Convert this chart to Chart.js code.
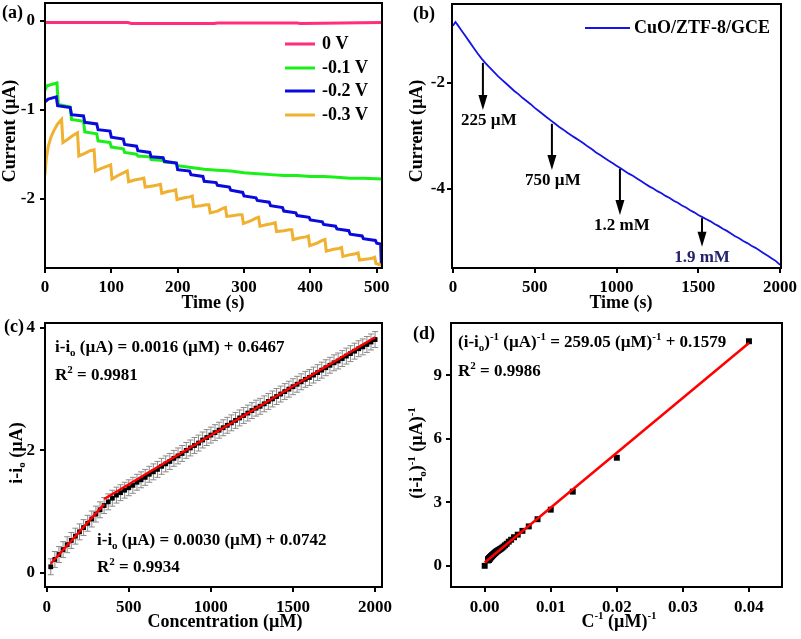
<!DOCTYPE html>
<html>
<head>
<meta charset="utf-8">
<script src="https://cdn.jsdelivr.net/npm/chart.js@4.4.0/dist/chart.umd.min.js"></script>
<style>
  body { margin: 0; background: #fff; }
  #wrap { position: relative; width: 801px; height: 639px; }
  canvas { position: absolute; }
</style>
</head>
<body>
<div id="wrap">
  <canvas id="chartA" style="left:0;top:0" width="400" height="318"></canvas>
  <canvas id="chartB" style="left:400px;top:0" width="401" height="318"></canvas>
  <canvas id="chartC" style="left:0;top:318px" width="400" height="321"></canvas>
  <canvas id="chartD" style="left:400px;top:318px" width="401" height="321"></canvas>
</div>
<script>
// (a) amperometric response at different potentials
const tA0 = [0, 125, 130, 255, 260, 380, 385, 508];
const iA0 = [-0.02, -0.02, -0.03, -0.03, -0.025, -0.025, -0.03, -0.02];
const tA1 = [0, 3, 18, 20, 38, 40, 58, 60, 78, 80, 98, 100, 118, 120, 138, 140, 158, 160, 178, 180, 198, 200, 220, 240, 260, 280, 300, 320, 340, 360, 380, 400, 420, 440, 460, 480, 508];
const iA1 = [-0.78, -0.73, -0.70, -0.94, -0.97, -1.11, -1.13, -1.25, -1.27, -1.35, -1.37, -1.42, -1.44, -1.48, -1.50, -1.52, -1.53, -1.56, -1.57, -1.59, -1.60, -1.63, -1.65, -1.67, -1.68, -1.69, -1.71, -1.72, -1.73, -1.74, -1.74, -1.75, -1.75, -1.76, -1.77, -1.77, -1.78];
const tA2 = [0, 5, 17, 19, 38, 40, 58, 60, 78, 80, 98, 100, 118, 120, 138, 140, 158, 160, 178, 180, 198, 200, 218, 220, 238, 240, 258, 260, 278, 280, 298, 300, 318, 320, 338, 340, 358, 360, 378, 380, 398, 400, 418, 420, 438, 440, 458, 460, 478, 480, 498, 500, 506, 507];
const iA2 = [-0.91, -0.88, -0.855, -0.955, -0.975, -1.056, -1.07, -1.142, -1.16, -1.225, -1.24, -1.31, -1.33, -1.39, -1.41, -1.46, -1.48, -1.53, -1.54, -1.58, -1.60, -1.674, -1.69, -1.73, -1.75, -1.805, -1.82, -1.85, -1.87, -1.906, -1.93, -1.97, -1.99, -2.02, -2.04, -2.08, -2.10, -2.14, -2.16, -2.19, -2.21, -2.24, -2.26, -2.29, -2.31, -2.34, -2.36, -2.40, -2.42, -2.45, -2.47, -2.50, -2.51, -2.74];
const tA3 = [0, 2, 5, 9, 13, 19, 25, 27, 35, 42, 49, 51, 60, 68, 74, 76, 85, 92, 99, 101, 110, 118, 124, 126, 135, 143, 149, 151, 160, 168, 174, 176, 185, 193, 197, 199, 210, 218, 222, 224, 235, 243, 247, 249, 260, 268, 272, 274, 285, 293, 297, 299, 310, 318, 322, 324, 335, 343, 347, 349, 360, 368, 372, 374, 385, 393, 397, 399, 410, 418, 422, 424, 435, 443, 447, 449, 460, 468, 472, 474, 485, 493, 497, 499, 508];
const iA3 = [-1.73, -1.55, -1.41, -1.31, -1.24, -1.16, -1.11, -1.37, -1.33, -1.29, -1.26, -1.52, -1.49, -1.46, -1.45, -1.69, -1.66, -1.64, -1.62, -1.78, -1.74, -1.71, -1.69, -1.81, -1.79, -1.78, -1.77, -1.87, -1.86, -1.85, -1.84, -1.94, -1.92, -1.91, -1.90, -2.01, -1.99, -1.98, -1.97, -2.09, -2.08, -2.07, -2.07, -2.16, -2.14, -2.11, -2.10, -2.20, -2.19, -2.18, -2.18, -2.28, -2.25, -2.22, -2.21, -2.31, -2.29, -2.28, -2.27, -2.37, -2.36, -2.35, -2.35, -2.46, -2.44, -2.43, -2.42, -2.53, -2.50, -2.47, -2.46, -2.59, -2.57, -2.56, -2.55, -2.65, -2.63, -2.62, -2.61, -2.69, -2.68, -2.67, -2.66, -2.73, -2.75];
const labelsA = ['0 V', '-0.1 V', '-0.2 V', '-0.3 V'];
const xTicksA = [0, 100, 200, 300, 400, 500];
const yTicksA = [0, -1, -2];

// (b) successive additions at CuO/ZTF-8/GCE
const timeB = [0, 15, 25, 50, 75, 100, 125, 150, 175, 200, 225, 250, 275, 300, 325, 350, 375, 400, 425, 450, 475, 500, 525, 550, 575, 600, 625, 650, 675, 700, 725, 750, 775, 800, 825, 850, 875, 900, 925, 950, 975, 1000, 1025, 1050, 1075, 1100, 1125, 1150, 1175, 1200, 1225, 1250, 1275, 1300, 1325, 1350, 1375, 1400, 1425, 1450, 1475, 1500, 1525, 1550, 1575, 1600, 1625, 1650, 1675, 1700, 1725, 1750, 1775, 1800, 1825, 1850, 1875, 1900, 1925, 1950, 1975, 2000];
const currentB = [-0.92, -0.85, -0.89, -1.00, -1.11, -1.22, -1.33, -1.44, -1.54, -1.63, -1.71, -1.79, -1.87, -1.94, -2.01, -2.08, -2.15, -2.21, -2.28, -2.34, -2.40, -2.47, -2.53, -2.59, -2.65, -2.71, -2.77, -2.83, -2.88, -2.94, -2.99, -3.04, -3.09, -3.14, -3.20, -3.25, -3.31, -3.36, -3.41, -3.46, -3.51, -3.56, -3.61, -3.66, -3.71, -3.75, -3.80, -3.85, -3.90, -3.95, -3.99, -4.04, -4.08, -4.13, -4.17, -4.22, -4.26, -4.31, -4.35, -4.40, -4.44, -4.49, -4.53, -4.57, -4.61, -4.66, -4.70, -4.75, -4.79, -4.84, -4.89, -4.93, -4.98, -5.02, -5.07, -5.11, -5.16, -5.21, -5.26, -5.31, -5.36, -5.43];
const arrowT = [183, 605, 1021, 1523];
const arrowFrom = [-1.62, -2.77, -3.62, -4.55];
const arrowTo = [-2.51, -3.64, -4.49, -5.09];
const arrowText = ['225 µM', '750 µM', '1.2 mM', '1.9 mM'];
const xTicksB = [0, 500, 1000, 1500, 2000];
const yTicksB = [-2, -4];

// (c) calibration
const concC = [25, 50, 75, 100, 125, 150, 175, 200, 225, 250, 275, 300, 325, 350, 375, 400, 425, 450, 475, 500, 525, 550, 575, 600, 625, 650, 675, 700, 725, 750, 775, 800, 825, 850, 875, 900, 925, 950, 975, 1000, 1025, 1050, 1075, 1100, 1125, 1150, 1175, 1200, 1225, 1250, 1275, 1300, 1325, 1350, 1375, 1400, 1425, 1450, 1475, 1500, 1525, 1550, 1575, 1600, 1625, 1650, 1675, 1700, 1725, 1750, 1775, 1800, 1825, 1850, 1875, 1900, 1925, 1950, 1975, 2000];
const currC = [0.10, 0.22, 0.30, 0.38, 0.46, 0.53, 0.60, 0.67, 0.74, 0.81, 0.88, 0.96, 1.03, 1.10, 1.16, 1.22, 1.27, 1.31, 1.35, 1.39, 1.43, 1.48, 1.52, 1.56, 1.61, 1.65, 1.69, 1.74, 1.78, 1.82, 1.87, 1.91, 1.95, 2.00, 2.04, 2.08, 2.12, 2.17, 2.21, 2.25, 2.29, 2.33, 2.37, 2.41, 2.45, 2.49, 2.53, 2.57, 2.61, 2.65, 2.69, 2.72, 2.76, 2.80, 2.84, 2.88, 2.92, 2.96, 3.00, 3.04, 3.08, 3.12, 3.16, 3.19, 3.23, 3.27, 3.31, 3.35, 3.39, 3.43, 3.46, 3.50, 3.54, 3.58, 3.62, 3.66, 3.69, 3.73, 3.77, 3.81];
const errC = 0.13;
const fitLowC = [25, 350], fitLowI = [0.149, 1.124];
const fitHighC = [350, 2000], fitHighI = [1.207, 3.847];
const xTicksC = [0, 500, 1000, 1500, 2000];
const yTicksC = [0, 2, 4];

// (d) Lineweaver-Burk
const invC = [0, 0.04, 0.02, 0.01333, 0.01, 0.008, 0.00667, 0.00571, 0.005, 0.00444, 0.004, 0.00364, 0.00333, 0.00308, 0.00286, 0.00267, 0.0025, 0.00235, 0.00222, 0.00211, 0.002, 0.0019, 0.00182, 0.00174, 0.00167, 0.0016, 0.00154, 0.00148, 0.00143, 0.00138, 0.00133, 0.00129, 0.00125, 0.00121, 0.00118, 0.00114, 0.00111, 0.00108, 0.00105, 0.00103, 0.001, 0.000976, 0.000952, 0.00093, 0.000909, 0.000889, 0.00087, 0.000851, 0.000833, 0.000816, 0.0008, 0.000784, 0.000769, 0.000755, 0.000741, 0.000727, 0.000714, 0.000702, 0.00069, 0.000678, 0.000667, 0.000656, 0.000645, 0.000635, 0.000625, 0.000615, 0.000606, 0.000597, 0.000588, 0.00058, 0.000571, 0.000563, 0.000556, 0.000548, 0.000541, 0.000533, 0.000526, 0.000519, 0.000513, 0.000506, 0.0005];
const invI = [0, 10.6, 5.1, 3.5, 2.65, 2.2, 1.86, 1.65, 1.47, 1.35, 1.23, 1.14, 1.04, 0.97, 0.91, 0.86, 0.82, 0.79, 0.76, 0.74, 0.72, 0.70, 0.68, 0.66, 0.64, 0.62, 0.61, 0.59, 0.57, 0.56, 0.55, 0.53, 0.52, 0.51, 0.50, 0.49, 0.48, 0.47, 0.46, 0.45, 0.44, 0.437, 0.429, 0.422, 0.415, 0.408, 0.402, 0.395, 0.389, 0.383, 0.377, 0.372, 0.368, 0.362, 0.357, 0.352, 0.347, 0.342, 0.338, 0.333, 0.329, 0.325, 0.321, 0.316, 0.313, 0.310, 0.306, 0.302, 0.299, 0.295, 0.292, 0.289, 0.286, 0.282, 0.279, 0.276, 0.273, 0.271, 0.268, 0.265, 0.262];
const fitInvC = [0, 0.04], fitInvI = [0.158, 10.52];
const xTicksD = [0, 0.01, 0.02, 0.03, 0.04];
const yTicksD = [0, 3, 6, 9];

const SERIF = "'Liberation Serif', 'Times New Roman', serif";
const tickFont = { family: SERIF, size: 17, weight: 'bold' };

function pts(xs, ys) {
  return xs.map((x, i) => ({ x: x, y: ys[i] }));
}

// text with sub/superscript pieces: parts = [[text, ''|'sub'|'sup'], ...]
function drawRich(ctx, parts, x, y, size, opt) {
  opt = opt || {};
  ctx.save();
  ctx.fillStyle = opt.color || '#000';
  ctx.textBaseline = 'middle';
  ctx.textAlign = 'left';
  const fontFor = m => 'bold ' + (m ? Math.round(size * 0.62) : size) + 'px ' + SERIF;
  let w = 0;
  parts.forEach(p => { ctx.font = fontFor(p[1]); w += ctx.measureText(p[0]).width; });
  ctx.translate(x, y);
  if (opt.rotate) ctx.rotate(-Math.PI / 2);
  let cx = opt.center ? -w / 2 : 0;
  parts.forEach(p => {
    ctx.font = fontFor(p[1]);
    const dy = p[1] === 'sub' ? size * 0.3 : p[1] === 'sup' ? -size * 0.32 : 0;
    ctx.fillText(p[0], cx, dy);
    cx += ctx.measureText(p[0]).width;
  });
  ctx.restore();
}

function textPlugin(items) {
  return {
    id: 'texts',
    afterDraw(chart) {
      items.forEach(it => drawRich(chart.ctx, it.parts, it.x, it.y, it.size || 17, it));
    }
  };
}

const framePlugin = {
  id: 'frame',
  afterDatasetsDraw(chart) {
    const a = chart.chartArea, ctx = chart.ctx;
    ctx.save();
    ctx.strokeStyle = '#000';
    ctx.lineWidth = 2;
    ctx.strokeRect(a.left, a.top, a.right - a.left, a.bottom - a.top);
    ctx.restore();
  }
};

function axis(min, max, ticks, box, isX, pad, fmt) {
  return {
    type: 'linear',
    min: min,
    max: max,
    border: { display: false },
    grid: { drawOnChartArea: false, tickLength: 5, lineWidth: 2, color: '#000' },
    ticks: { color: '#000', font: tickFont, padding: pad, callback: fmt || (v => String(v)) },
    afterBuildTicks: s => { s.ticks = ticks.map(v => ({ value: v })); },
    afterFit: s => {
      if (isX) { s.height = box; s.paddingLeft = 0; s.paddingRight = 0; }
      else { s.width = box; s.paddingTop = 0; s.paddingBottom = 0; }
    }
  };
}

function baseOptions(padding, xScale, yScale) {
  return {
    responsive: false,
    animation: false,
    events: [],
    layout: { padding: padding },
    plugins: { legend: { display: false }, tooltip: { enabled: false } },
    scales: { x: xScale, y: yScale }
  };
}

// ---------- (a) ----------
const colorsA = ['#ff2d7a', '#1aef1a', '#0a0adc', '#f0b030'];
const seriesA = [[tA3, iA3], [tA2, iA2], [tA1, iA1], [tA0, iA0]];
const legendA = {
  id: 'legendA',
  afterDraw(chart) {
    const ctx = chart.ctx;
    const rows = [44, 68, 91, 115];
    labelsA.forEach((lab, i) => {
      ctx.save();
      ctx.strokeStyle = colorsA[i];
      ctx.lineWidth = 3;
      ctx.beginPath();
      ctx.moveTo(285, rows[i]);
      ctx.lineTo(315, rows[i]);
      ctx.stroke();
      ctx.restore();
      drawRich(ctx, [[lab, '']], 322, rows[i], 18);
    });
  }
};
new Chart(document.getElementById('chartA'), {
  type: 'scatter',
  data: {
    datasets: seriesA.map((s, k) => ({
      label: labelsA[3 - k],
      data: pts(s[0], s[1]),
      showLine: true,
      borderColor: colorsA[3 - k],
      borderWidth: 3,
      pointRadius: 0
    }))
  },
  options: baseOptions({ top: 3, right: 18, left: 0, bottom: 0 },
    axis(0, 508, xTicksA, 50, true, 4),
    axis(-2.78, 0.2, yTicksA, 45, false, 5)),
  plugins: [framePlugin, legendA, textPlugin([
    { parts: [['(a)', '']], x: 2, y: 13, size: 18 },
    { parts: [['Current (µA)', '']], x: 10, y: 131, size: 18, rotate: true, center: true },
    { parts: [['Time (s)', '']], x: 213, y: 303, size: 18, center: true }
  ])]
});

// ---------- (b) ----------
const arrowsB = {
  id: 'arrowsB',
  afterDatasetsDraw(chart) {
    const ctx = chart.ctx, xs = chart.scales.x, ys = chart.scales.y;
    const dx = [6, 1, 2, 0];
    arrowT.forEach((t, i) => {
      const x = xs.getPixelForValue(t);
      const y1 = ys.getPixelForValue(arrowFrom[i]);
      const y2 = ys.getPixelForValue(arrowTo[i]);
      ctx.save();
      ctx.strokeStyle = '#000';
      ctx.fillStyle = '#000';
      ctx.lineWidth = 2;
      ctx.beginPath();
      ctx.moveTo(x, y1);
      ctx.lineTo(x, y2 - 12);
      ctx.stroke();
      ctx.beginPath();
      ctx.moveTo(x - 4.5, y2 - 15);
      ctx.lineTo(x + 4.5, y2 - 15);
      ctx.lineTo(x, y2);
      ctx.closePath();
      ctx.fill();
      ctx.restore();
      drawRich(ctx, [[arrowText[i], '']], x + dx[i], y2 + 11, 17,
        { center: true, color: i === 3 ? '#23236b' : '#000' });
    });
  }
};
const legendB = {
  id: 'legendB',
  afterDraw(chart) {
    const ctx = chart.ctx;
    ctx.save();
    ctx.strokeStyle = '#1414e6';
    ctx.lineWidth = 2;
    ctx.beginPath();
    ctx.moveTo(185, 28);
    ctx.lineTo(230, 28);
    ctx.stroke();
    ctx.restore();
    drawRich(ctx, [['CuO/ZTF-8/GCE', '']], 234, 28, 18);
  }
};
new Chart(document.getElementById('chartB'), {
  type: 'scatter',
  data: {
    datasets: [{
      label: 'CuO/ZTF-8/GCE',
      data: pts(timeB, currentB),
      showLine: true,
      borderColor: '#1414e6',
      borderWidth: 1.8,
      pointRadius: 0
    }]
  },
  options: baseOptions({ top: 4, right: 20, left: 0, bottom: 0 },
    axis(-6, 2006, xTicksB, 50, true, 4),
    axis(-5.49, -0.51, yTicksB, 52, false, 2)),
  plugins: [framePlugin, arrowsB, legendB, textPlugin([
    { parts: [['(b)', '']], x: 13, y: 14, size: 18 },
    { parts: [['Current (µA)', '']], x: 17.5, y: 131, size: 18, rotate: true, center: true },
    { parts: [['Time (s)', '']], x: 221, y: 303, size: 18, center: true }
  ])]
});

// ---------- (c) ----------
const errorBarsC = {
  id: 'errorBarsC',
  beforeDatasetsDraw(chart) {
    const ctx = chart.ctx, xs = chart.scales.x, ys = chart.scales.y;
    ctx.save();
    ctx.strokeStyle = '#8a8a8a';
    ctx.lineWidth = 1;
    concC.forEach((c, i) => {
      const x = xs.getPixelForValue(c);
      const yt = ys.getPixelForValue(currC[i] + errC);
      const yb = ys.getPixelForValue(currC[i] - errC);
      ctx.beginPath();
      ctx.moveTo(x, yt); ctx.lineTo(x, yb);
      ctx.moveTo(x - 3, yt); ctx.lineTo(x + 3, yt);
      ctx.moveTo(x - 3, yb); ctx.lineTo(x + 3, yb);
      ctx.stroke();
    });
    ctx.restore();
  }
};
new Chart(document.getElementById('chartC'), {
  type: 'scatter',
  data: {
    datasets: [
      { data: pts(fitHighC, fitHighI), showLine: true, borderColor: '#ff0000', borderWidth: 2.5, pointRadius: 0 },
      { data: pts(fitLowC, fitLowI), showLine: true, borderColor: '#ff0000', borderWidth: 2.5, pointRadius: 0 },
      { data: pts(concC, currC), pointStyle: 'rect', pointRadius: 3.4, backgroundColor: '#000', borderColor: '#000', borderWidth: 0 }
    ]
  },
  options: baseOptions({ top: 5, right: 18, left: 0, bottom: 0 },
    axis(-10, 2042, xTicksC, 52, true, 5),
    axis(-0.23, 4.08, yTicksC, 45, false, 5)),
  plugins: [errorBarsC, framePlugin, textPlugin([
    { parts: [['(c)', '']], x: 4, y: 9, size: 18 },
    { parts: [['i-i', ''], ['o', 'sub'], [' (µA)', '']], x: 17, y: 135, size: 18, rotate: true, center: true },
    { parts: [['Concentration (µM)', '']], x: 225, y: 304, size: 18, center: true },
    { parts: [['i-i', ''], ['o', 'sub'], [' (µA) = 0.0016 (µM) + 0.6467', '']], x: 55, y: 30 },
    { parts: [['R', ''], ['2', 'sup'], [' = 0.9981', '']], x: 55, y: 58 },
    { parts: [['i-i', ''], ['o', 'sub'], [' (µA) = 0.0030 (µM) + 0.0742', '']], x: 97, y: 223 },
    { parts: [['R', ''], ['2', 'sup'], [' = 0.9934', '']], x: 97, y: 250 }
  ])]
});

// ---------- (d) ----------
new Chart(document.getElementById('chartD'), {
  type: 'scatter',
  data: {
    datasets: [
      { data: pts(fitInvC, fitInvI), showLine: true, borderColor: '#ff0000', borderWidth: 2.5, pointRadius: 0 },
      { data: pts(invC, invI), pointStyle: 'rect', pointRadius: 4.2, backgroundColor: '#000', borderColor: '#000', borderWidth: 0 }
    ]
  },
  options: baseOptions({ top: 5, right: 19, left: 0, bottom: 0 },
    axis(-0.0051, 0.045, xTicksD, 52, true, 5, v => v.toFixed(2)),
    axis(-1.0, 11.46, yTicksD, 51, false, 4)),
  plugins: [framePlugin, textPlugin([
    { parts: [['(d)', '']], x: 13, y: 16, size: 18 },
    { parts: [['(i-i', ''], ['o', 'sub'], [')', ''], ['-1', 'sup'], [' (µA)', ''], ['-1', 'sup']], x: 17.5, y: 135, size: 18, rotate: true, center: true },
    { parts: [['C', ''], ['-1', 'sup'], [' (µM)', ''], ['-1', 'sup']], x: 219, y: 304, size: 18, center: true },
    { parts: [['(i-i', ''], ['o', 'sub'], [')', ''], ['-1', 'sup'], [' (µA)', ''], ['-1', 'sup'], [' = 259.05 (µM)', ''], ['-1', 'sup'], [' + 0.1579', '']], x: 58, y: 25 },
    { parts: [['R', ''], ['2', 'sup'], [' = 0.9986', '']], x: 58, y: 54 }
  ])]
});
</script>
</body>
</html>
